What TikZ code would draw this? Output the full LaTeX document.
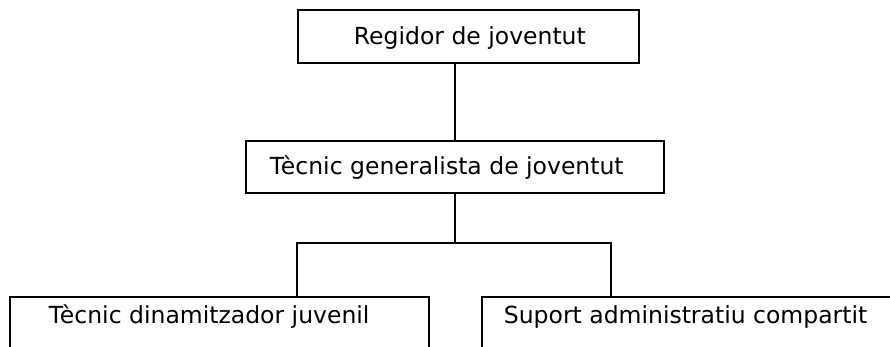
\documentclass[tikz,border=0pt]{standalone}
\usepackage{fontspec}
\setmainfont{DejaVu Sans}
\newcommand\padtext[3]{\makebox[#1][l]{\hspace*{#2}#3}}
\begin{document}
\begin{tikzpicture}[x=1pt,y=-1pt,
  box/.style={draw, line width=1.8pt, anchor=north west, inner xsep=0pt, inner ysep=0pt,
    font=\fontsize{23.5}{28}\selectfont},
  link/.style={line width=1.8pt}]
\useasboundingbox (0,0) rectangle (890,346);
\clip (0,0) rectangle (890,346);
\node[box, text height=35pt, text depth=18pt] (top) at (297,9)
  {\padtext{341pt}{56pt}{Regidor de joventut}};
\node[box, text height=34pt, text depth=18pt] (mid) at (245,140)
  {\padtext{418pt}{24pt}{Tècnic generalista de joventut}};
\node[box, text height=26.5pt, text depth=40pt] (left) at (9,296)
  {\padtext{419pt}{39pt}{Tècnic dinamitzador juvenil}};
\node[box, text height=26.5pt, text depth=40pt] (right) at (481,296)
  {\padtext{439pt}{22pt}{Suport administratiu compartit}};
\coordinate (jl) at (297,243);
\coordinate (jr) at (611,243);
\draw[link] (mid.north) -- (mid.north |- top.south);
\draw[link] (mid.south) -- (mid.south |- jl);
\draw[link] (jl |- left.north) -- (jl) -- (jr) -- (jr |- right.north);
\end{tikzpicture}
\end{document}
